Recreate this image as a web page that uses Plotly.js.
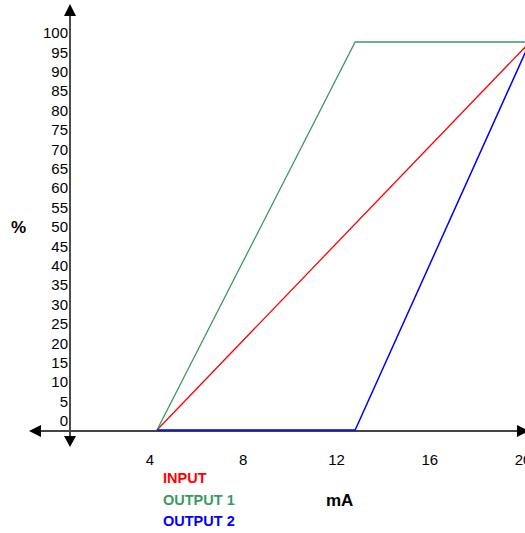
<!DOCTYPE html>
<html>
<head>
<meta charset="utf-8">
<script src="https://cdn.plot.ly/plotly-3.0.1.min.js"></script>
<style>html,body{margin:0;padding:0;background:#fff;overflow:hidden;}#wrap{width:525px;height:533px;overflow:hidden;}#chart{width:545px;height:533px;}</style>
</head>
<body>
<div id="wrap"><div id="chart"></div></div>
<script>
// Data (mA vs %)
const inputX = [4, 20];
const inputY = [0, 100];
const output1X = [4, 12.5, 20];
const output1Y = [0, 100, 100];
const output2X = [4, 12.5, 20];
const output2Y = [0, 0, 100];
const xTickVals = [4, 8, 12, 16, 20];
const yTickVals = [0,5,10,15,20,25,30,35,40,45,50,55,60,65,70,75,80,85,90,95,100];
const seriesNames = ['INPUT', 'OUTPUT 1', 'OUTPUT 2'];
const seriesColors = ['#ff0000', '#3a9a62', '#0000ff'];

const W = 545, H = 533;   // drawn wider than the 525px window; the extra is clipped
const X = p => p / W;
const Y = p => 1 - p / H;
const FONT = 'Arial, "Liberation Sans", sans-serif';

const traces = [
  {x: inputX, y: inputY, mode: 'lines', line: {color: seriesColors[0], width: 1.3}, name: seriesNames[0]},
  {x: output1X, y: output1Y, mode: 'lines', line: {color: seriesColors[1], width: 1.3}, name: seriesNames[1]},
  {x: output2X, y: output2Y, mode: 'lines', line: {color: seriesColors[2], width: 1.5}, name: seriesNames[2]}
];

function tri(pts) {
  return 'M' + pts.map(p => X(p[0]) + ',' + Y(p[1])).join(' L') + ' Z';
}

const shapes = [
  {type: 'line', xref: 'paper', yref: 'paper', x0: X(70), x1: X(70), y0: Y(12), y1: Y(440), line: {color: '#111', width: 1.5}, layer: 'below'},
  {type: 'line', xref: 'paper', yref: 'paper', x0: X(36), x1: X(518), y0: Y(431), y1: Y(431), line: {color: '#444', width: 2}, layer: 'below'},
  {type: 'path', xref: 'paper', yref: 'paper', path: tri([[70,4],[64,16],[76,16]]), fillcolor: '#000', line: {width: 0}},
  {type: 'path', xref: 'paper', yref: 'paper', path: tri([[70,447],[64,436],[76,436]]), fillcolor: '#000', line: {width: 0}},
  {type: 'path', xref: 'paper', yref: 'paper', path: tri([[29,431],[41,425],[41,437]]), fillcolor: '#000', line: {width: 0}},
  {type: 'path', xref: 'paper', yref: 'paper', path: tri([[529,431],[517,425],[517,437]]), fillcolor: '#000', line: {width: 0}}
];

function label(text, px, py, color, xanchor, size) {
  return {text: '<b>' + text + '</b>', xref: 'paper', yref: 'paper', x: X(px), y: Y(py),
          xanchor: xanchor, yanchor: 'middle', showarrow: false,
          font: {family: FONT, size: size, color: color}};
}

const annotations = [
  label('%', 18, 227, '#000', 'center', 17),
  label('mA', 339, 500, '#000', 'center', 17),
  label(seriesNames[0], 161, 478, seriesColors[0], 'left', 14.5),
  label(seriesNames[1], 161, 500, seriesColors[1], 'left', 14.5),
  label(seriesNames[2], 161, 521, seriesColors[2], 'left', 14.5)
];

// axis scale: 4 mA -> 157px, 20 mA -> 530px ; 0% -> 430px, 100% -> 42px
const sx = (530 - 157) / 16;
const x0 = 4 - 157 / sx;
const sy = (430 - 42) / 100;
const yTop = 100 + 42 / sy;
const yBot = -(H - 430) / sy;

const layout = {
  width: W, height: H,
  margin: {l: 0, r: 0, t: 0, b: 0, pad: 0},
  paper_bgcolor: '#fff', plot_bgcolor: '#fff',
  showlegend: false,
  xaxis: {
    range: [x0, x0 + W / sx], anchor: 'free', position: Y(431),
    showgrid: false, zeroline: false, showline: false, ticks: '',
    tickvals: xTickVals, ticktext: xTickVals.map(String),
    ticklabelstandoff: 18, ticklabelshift: -7,
    tickfont: {family: FONT, size: 15, color: '#000'}
  },
  yaxis: {
    range: [yBot, yTop], anchor: 'free', position: X(70),
    showgrid: false, zeroline: false, showline: false, ticks: '',
    tickvals: yTickVals, ticktext: yTickVals.map(String),
    ticklabelshift: -9, ticklabelstandoff: 2,
    tickfont: {family: FONT, size: 15, color: '#000'}
  },
  shapes: shapes,
  annotations: annotations
};

Plotly.newPlot('chart', traces, layout, {staticPlot: true, displayModeBar: false});
</script>
</body>
</html>
